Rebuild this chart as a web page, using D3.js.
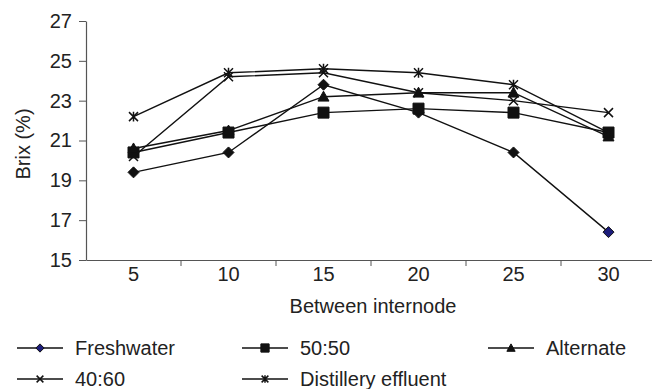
<!DOCTYPE html>
<html>
<head>
<meta charset="utf-8">
<script src="https://cdn.jsdelivr.net/npm/d3@7"></script>
<style>
  body { margin: 0; background: #fff; }
  svg text { font-family: "Liberation Sans", Arial, sans-serif; fill: #222; }
</style>
</head>
<body>
<div id="chart"></div>
<script>
// internode positions on the x axis
const internodes = ["5", "10", "15", "20", "25", "30"];
const yTicks = [15, 17, 19, 21, 23, 25, 27];

// Brix (%) for each treatment
const freshwater = [19.4, 20.4, 23.8, 22.4, 20.4, 16.4];
const fifty50 = [20.4, 21.4, 22.4, 22.6, 22.4, 21.4];
const alternate = [20.6, 21.5, 23.2, 23.4, 23.4, 21.2];
const forty60 = [20.2, 24.2, 24.4, 23.4, 23.0, 22.4];
const distillery = [22.2, 24.4, 24.6, 24.4, 23.8, 21.4];

const seriesNames = ["Freshwater", "50:50", "Alternate", "40:60", "Distillery effluent"];
const seriesValues = [freshwater, fifty50, alternate, forty60, distillery];
const seriesMarks = ["diamond", "square", "triangle", "cross", "star"];

const width = 652, height = 389;
const margin = {top: 21, left: 86, right: -4, bottom: 129};
const fontSize = "20px";

const svg = d3.select("#chart").append("svg")
    .attr("width", width)
    .attr("height", height);

const x = d3.scaleBand()
    .domain(internodes)
    .range([margin.left, width - margin.right]);

const y = d3.scaleLinear()
    .domain([15, 27])
    .range([height - margin.bottom, margin.top]);

/**
 * markPath
 *
 * Purpose: returns a path string for one marker centred on 0,0
 */
function markPath(kind, s) {
    switch (kind) {
        case "diamond":
            return `M0,${-s}L${s},0L0,${s}L${-s},0Z`;
        case "square":
            return `M${-s},${-s}H${s}V${s}H${-s}Z`;
        case "triangle":
            return `M0,${-s}L${s},${s * 0.8}L${-s},${s * 0.8}Z`;
        case "cross":
            return `M${-s},${-s}L${s},${s}M${-s},${s}L${s},${-s}`;
        case "star":
            return `M${-s},${-s}L${s},${s}M${-s},${s}L${s},${-s}M0,${-s * 1.1}V${s * 1.1}`;
    }
}

const markSize = {diamond: 5.5, square: 5.5, triangle: 5.5, cross: 4.5, star: 4.5};

function drawMark(g, kind, s, fill) {
    const filled = kind === "diamond" || kind === "square" || kind === "triangle";
    g.append("path")
        .attr("d", markPath(kind, s))
        .attr("fill", filled ? fill : "none")
        .attr("stroke", "#111")
        .attr("stroke-width", filled ? 1 : 1.5)
        .attr("stroke-linejoin", "miter");
}

// axes
svg.append("g")
    .attr("transform", `translate(${margin.left},0)`)
    .call(d3.axisLeft(y).tickValues(yTicks).tickSize(7).tickSizeOuter(0).tickPadding(7));

const xAxis = svg.append("g")
    .attr("transform", `translate(0,${height - margin.bottom})`)
    .call(d3.axisBottom(x).tickSize(0).tickPadding(7));

// excel style ticks sit between the categories
xAxis.selectAll(".between")
    .data(internodes.slice(1))
    .enter()
    .append("line")
        .attr("x1", d => x(d))
        .attr("x2", d => x(d))
        .attr("y1", 0)
        .attr("y2", 6)
        .attr("stroke", "#555");

svg.selectAll(".domain").attr("stroke", "#555").attr("stroke-width", 1.2);
svg.selectAll(".tick line").attr("stroke", "#555");
svg.selectAll(".tick text").style("font-size", fontSize);

svg.append("text")
    .attr("x", 373)
    .attr("y", 313)
    .attr("text-anchor", "middle")
    .style("font-size", fontSize)
    .text("Between internode");

svg.append("text")
    .attr("transform", `translate(30,144) rotate(-90)`)
    .attr("text-anchor", "middle")
    .style("font-size", fontSize)
    .text("Brix (%)");

// lines and markers
const line = d3.line()
    .x((d, i) => x(internodes[i]) + x.bandwidth() / 2)
    .y(d => y(d));

seriesValues.forEach((vals, k) => {
    const g = svg.append("g");
    g.append("path")
        .datum(vals)
        .attr("d", line)
        .attr("fill", "none")
        .attr("stroke", "#111")
        .attr("stroke-width", 1.4);

    vals.forEach((v, i) => {
        const kind = seriesMarks[k];
        const fill = (kind === "diamond" && i === vals.length - 1) ? "#1c1c7a" : "#111";
        const m = g.append("g")
            .attr("transform", `translate(${x(internodes[i]) + x.bandwidth() / 2},${y(v)})`);
        drawMark(m, kind, markSize[kind], fill);
    });
});

// legend
const legendPos = [[17, 348], [242, 348], [488, 348], [17, 379], [242, 379]];
seriesNames.forEach((name, k) => {
    const [lx, ly] = legendPos[k];
    const g = svg.append("g").attr("transform", `translate(${lx},${ly})`);
    g.append("line")
        .attr("x1", 0).attr("x2", 46)
        .attr("y1", 0).attr("y2", 0)
        .attr("stroke", "#111")
        .attr("stroke-width", 1.4);
    const kind = seriesMarks[k];
    const m = g.append("g").attr("transform", "translate(23,0)");
    drawMark(m, kind, markSize[kind] * 0.75, kind === "diamond" ? "#1c1c7a" : "#111");
    g.append("text")
        .attr("x", 58)
        .attr("y", 0)
        .attr("dy", "0.35em")
        .style("font-size", fontSize)
        .text(name);
});
</script>
</body>
</html>
